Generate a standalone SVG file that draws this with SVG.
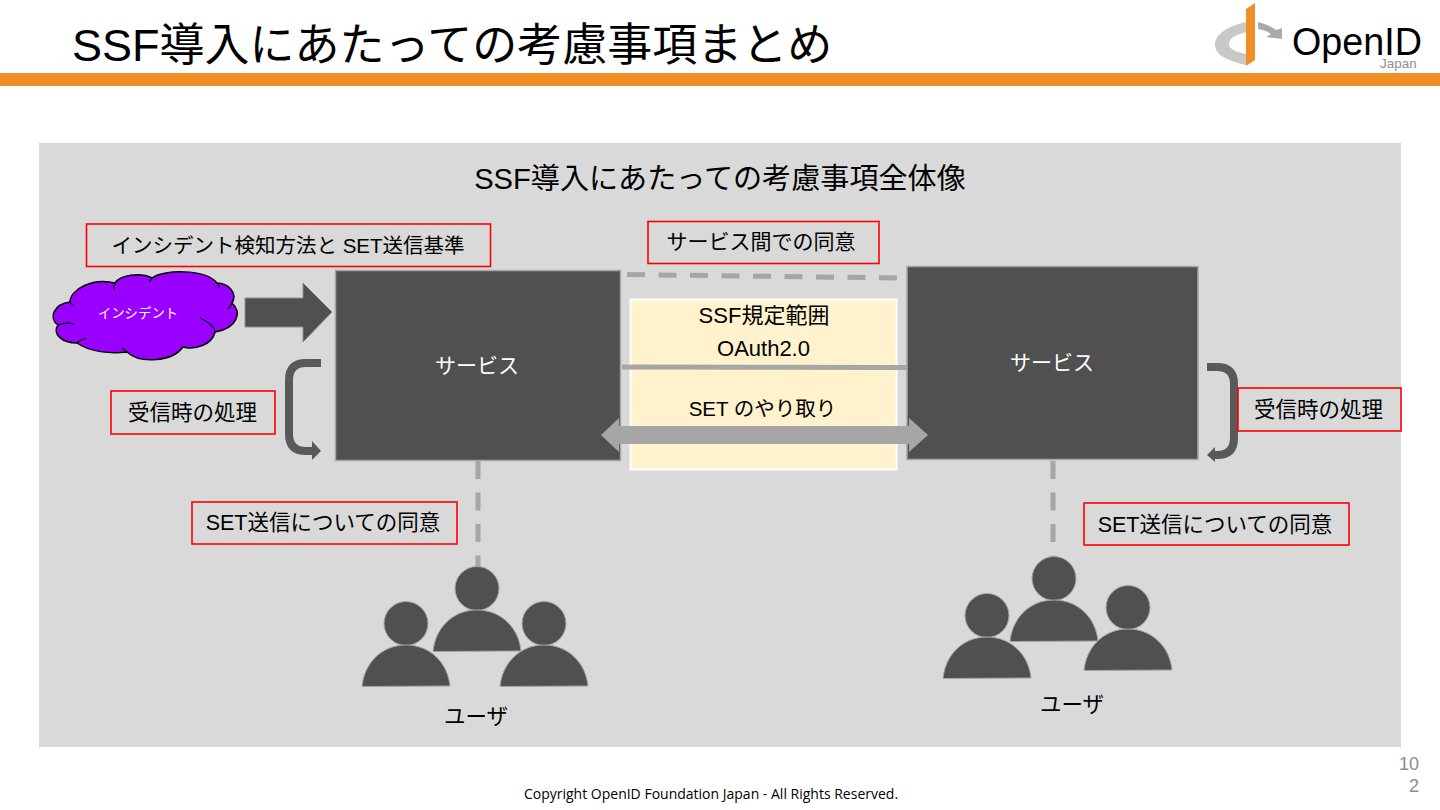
<svg xmlns="http://www.w3.org/2000/svg" width="1440" height="810" viewBox="0 0 1440 810">
<style>
text{font-family:"Liberation Sans","Noto Sans CJK JP",sans-serif;fill:#000}
.m{text-anchor:middle}
.box{fill:#505050;stroke:#a6a6a6;stroke-width:1.5}
.lab{fill:#d9d9d9;stroke:#ff0000;stroke-width:1.6}
.t{font-size:21.500px}
.dash{fill:none;stroke:#a6a6a6;stroke-width:5;stroke-dasharray:18 13.5}
.curve{fill:none;stroke:#595959;stroke-width:8}
.p{fill:#505050;stroke:#a6a6a6;stroke-width:1}
.fold{fill:none;stroke:#000;stroke-width:1.200}
</style>
<defs>
<g id="people">
<circle cx="0" cy="-67.500" r="22" class="p"/>
<path d="M-44 -4.500C-42 -27 -25 -46 0 -46C25 -46 42 -27 44 -5Z" class="p"/>
</g>
</defs>
<rect width="1440" height="810" fill="#fff"/>
<g id="header">
<text x="72" y="61" font-size="45">SSF導入にあたっての考慮事項まとめ</text>
<rect x="0" y="73" width="1440" height="13" fill="#ee9026"/>
</g>
<g id="logo">
<path d="M1246 22C1228 26 1215 34 1215 45C1215 55 1228 61 1246 65L1246 54C1236 52 1229 49 1229 44C1229 38 1236 35 1246 32Z" fill="#c8c8c8"/>
<path d="M1258 22C1266 24 1272 27 1276 30L1282 28L1282 39L1266 37L1271 34C1267 31 1263 30 1258 29Z" fill="#a9a9a9"/>
<path d="M1246 9L1255 3L1255 60L1246 66Z" fill="#ee9026"/>
<text x="1292" y="55" font-size="38" textLength="130" lengthAdjust="spacingAndGlyphs">OpenID</text>
<text x="1380" y="68" font-size="13.500" style="fill:#8f8f8f">Japan</text>
</g>
<rect id="panel" x="39" y="143" width="1362" height="604" fill="#d9d9d9"/>
<text class="m" x="720" y="189" font-size="29.100">SSF導入にあたっての考慮事項全体像</text>
<g id="ssf-scope">
<rect x="630.500" y="299.500" width="266" height="170" fill="#fff2cc" stroke="#fff" stroke-width="2"/>
<text class="m" font-size="22" x="764" y="323">SSF規定範囲</text>
<text class="m" font-size="22" x="763.500" y="356">OAuth2.0</text>
<text class="m" font-size="20.500" x="762.500" y="416">SET のやり取り</text>
</g>
<g id="service-left"><rect class="box" x="335.500" y="270.500" width="285" height="190"/><text class="m" font-size="21" x="477" y="373" style="fill:#fff">サービス</text></g>
<g id="service-right"><rect class="box" x="907" y="266.500" width="291" height="193"/><text class="m" font-size="21" x="1052" y="370" style="fill:#fff">サービス</text></g>
<g id="connectors">
<path class="dash" d="M627 274.500L897 278"/>
<path d="M622 367L907 367.500" stroke="#a6a6a6" stroke-width="5" fill="none"/>
<path d="M601 435L619 418V426H909V418L928 435L909 452V444H619V452Z" fill="#a6a6a6"/>
<path d="M245 298H303V283L332 312L303 342V327H245Z" fill="#505050" stroke="#8c8c8c"/>
<path class="curve" d="M321 363H306Q289 363 289 380V434Q289 451 306 451H314"/>
<path d="M312 441L321 451L312 460Z" fill="#595959"/>
<path class="curve" d="M1207 367H1217Q1234 367 1234 384V438Q1234 455 1217 455H1213"/>
<path d="M1215 447L1207 455L1215 462Z" fill="#595959"/>
<path class="dash" d="M478 461V568" stroke-dasharray="18 12"/>
<path class="dash" d="M1053 461V558" stroke-dasharray="18 12"/>
</g>
<g id="incident">
<path d="M70 302C70 290 92 277 115 283C120 275 140 272 152 278C162 270 205 268 217 283C228 283 238 293 232 303C242 312 238 328 215 332C212 345 195 350 183 347C172 362 140 364 127 352C110 354 90 352 77 343C62 343 52 334 58 325C48 318 54 304 70 302Z" fill="#9900ff" stroke="#000" stroke-width="1.500"/>
<path class="fold" d="M70 302Q72 305 74 306M115 283Q113 287 114 290M152 278Q151 281 149 282M217 283Q219 285 219 288M232 303Q230 307 228 309M215 332Q215 325 200 318M127 352Q125 350 122 348M77 343Q80 340 86 338M58 325Q66 322 74 324"/>
<text class="m" x="138" y="318" font-size="13.400" style="fill:#fff">インシデント</text>
</g>
<g id="label-detect"><rect class="lab" x="86.500" y="224" width="404" height="42.500"/><text class="m" font-size="20.500" x="288" y="253">インシデント検知方法と SET送信基準</text></g>
<g id="label-consent-service"><rect class="lab" x="648" y="221.500" width="231" height="42"/><text class="m" font-size="21" x="761" y="249">サービス間での同意</text></g>
<g id="label-recv-left"><rect class="lab" x="111" y="391" width="164" height="43"/><text class="m t" font-size="21.700" x="192.500" y="420">受信時の処理</text></g>
<g id="label-recv-right"><rect class="lab" x="1238" y="388" width="163" height="43"/><text class="m t" x="1318.500" y="417">受信時の処理</text></g>
<g id="label-consent-left"><rect class="lab" x="192" y="502" width="265" height="42"/><text class="m t" x="323" y="530">SET送信についての同意</text></g>
<g id="label-consent-right"><rect class="lab" x="1084" y="503" width="265" height="42"/><text class="m t" x="1215" y="532">SET送信についての同意</text></g>
<g id="users-left">
<use href="#people" x="406" y="691"/>
<use href="#people" x="477" y="656"/>
<use href="#people" x="544" y="691"/>
<text class="m t" x="476" y="724">ユーザ</text>
</g>
<g id="users-right">
<use href="#people" x="987" y="683"/>
<use href="#people" x="1054" y="646"/>
<use href="#people" x="1128" y="675"/>
<text class="m t" x="1072" y="712">ユーザ</text>
</g>
<g id="footer">
<text x="711" y="799" class="m" font-size="14" style="font-family:'Open Sans','Noto Sans',sans-serif">Copyright OpenID Foundation Japan - All Rights Reserved.</text>
<text x="1419" y="770" text-anchor="end" font-size="18" style="fill:#8c8c8c">10</text>
<text x="1419" y="792" text-anchor="end" font-size="18" style="fill:#8c8c8c">2</text>
</g>
</svg>
